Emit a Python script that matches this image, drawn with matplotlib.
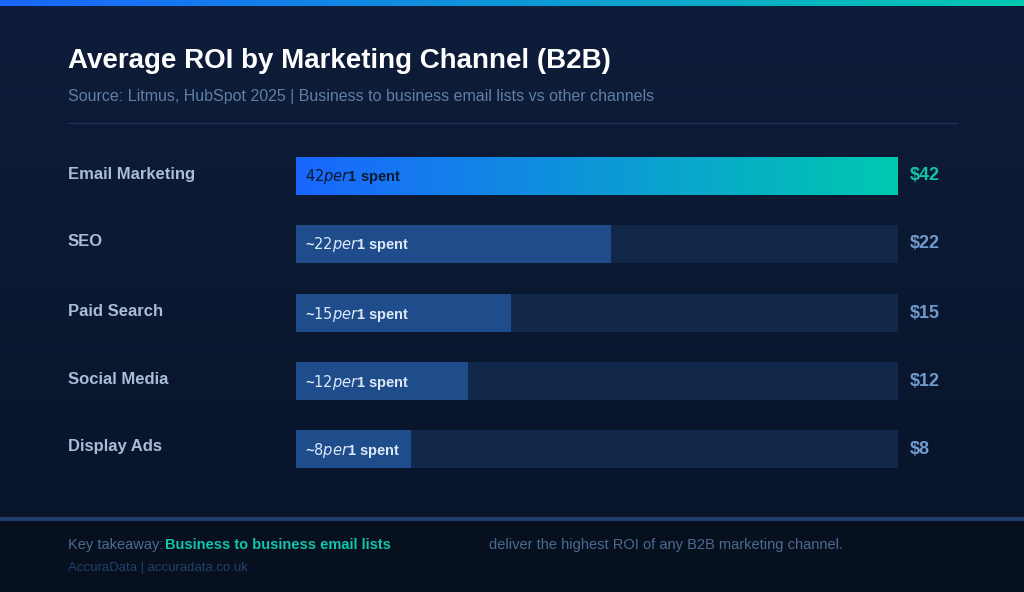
import numpy as np
import matplotlib.pyplot as plt
from matplotlib.colors import LinearSegmentedColormap

channels = ["Email Marketing", "SEO", "Paid Search", "Social Media", "Display Ads"]
roi = [42, 22, 15, 12, 8]
bar_labels = ["$42 per $1 spent", "~$22 per $1 spent", "~$15 per $1 spent",
              "~$12 per $1 spent", "~$8 per $1 spent"]
value_labels = ["$42", "$22", "$15", "$12", "$8"]

W, H = 1024, 592
fig = plt.figure(figsize=(W / 100, H / 100), dpi=100)
plt.rcParams['font.family'] = ['Liberation Sans', 'DejaVu Sans']

# background axes in pixel coords
bg = fig.add_axes([0, 0, 1, 1])
bg.set_xlim(0, W)
bg.set_ylim(H, 0)
bg.axis("off")
grad = np.linspace(0, 1, 256).reshape(-1, 1)
bgmap = LinearSegmentedColormap.from_list("bg", ["#0e1d3a", "#08142a"])
bg.imshow(grad, cmap=bgmap, extent=[0, W, 518, 0], aspect="auto", zorder=0)
bg.fill_between([0, W], 518, H, color="#06101f", zorder=1)
bg.plot([0, W], [519, 519], color="#1f3d6b", lw=3, zorder=2)
topmap = LinearSegmentedColormap.from_list("top", ["#1a66ff", "#00c9b0"])
bg.imshow(np.linspace(0, 1, 256).reshape(1, -1), cmap=topmap,
          extent=[0, W, 6, 0], aspect="auto", zorder=3)
bg.plot([68, 956], [123, 123], color="#1e3356", lw=1, zorder=2)

bg.text(68, 61, "Average ROI by Marketing Channel (B2B)", color="white",
        fontsize=20, fontweight="bold", va="center", zorder=4)
bg.text(68, 97, "Source: Litmus, HubSpot 2025 | Business to business email lists vs other channels",
        color="#5f7fa6", fontsize=11.5, va="center", zorder=4)
bg.text(68, 545, "Key takeaway:", color="#4f6a8f", fontsize=10.5, va="center", zorder=4)
bg.text(165, 545, "Business to business email lists", color="#12c4a8", fontsize=10.5,
        fontweight="bold", va="center", zorder=4)
bg.text(489, 545, "deliver the highest ROI of any B2B marketing channel.", color="#4f6a8f",
        fontsize=10.5, va="center", zorder=4)
bg.text(68, 568, "AccuraData | accuradata.co.uk", color="#23406a", fontsize=9.5,
        va="center", zorder=4)

y_pix = [176, 244, 313, 381, 449]
for name, yp in zip(channels, y_pix):
    bg.text(68, yp - 2, name, color="#a9bdd8", fontsize=12, fontweight="bold",
            va="center", zorder=4)

# bars axes: x in ROI units, y in pixels
ax = fig.add_axes([296 / W, 0, (898 - 296) / W, 1])
ax.set_xlim(0, 42)
ax.set_ylim(H, 0)
ax.axis("off")
ax.patch.set_alpha(0)
ax.barh(y_pix, [42] * len(roi), height=38, color="#11284b", zorder=1)
ax.barh(y_pix[1:], roi[1:], height=38, color="#1f4d8c", zorder=2)
ax.imshow(np.linspace(0, 1, 256).reshape(1, -1), cmap=topmap,
          extent=[0, roi[0], y_pix[0] + 19, y_pix[0] - 19], aspect="auto", zorder=2)
for i, (yp, lab, val) in enumerate(zip(y_pix, bar_labels, value_labels)):
    ax.text(0.6, yp + 1, lab, color="#0a1a33" if i == 0 else "#dce8f7",
            fontsize=10.5, fontweight="bold", va="center", zorder=3)
    ax.text(42.8, yp, val, color="#14c4aa" if i == 0 else "#6f9acb",
            fontsize=13, fontweight="bold", va="center", zorder=3, clip_on=False)

fig.savefig("out.png", dpi=100)
